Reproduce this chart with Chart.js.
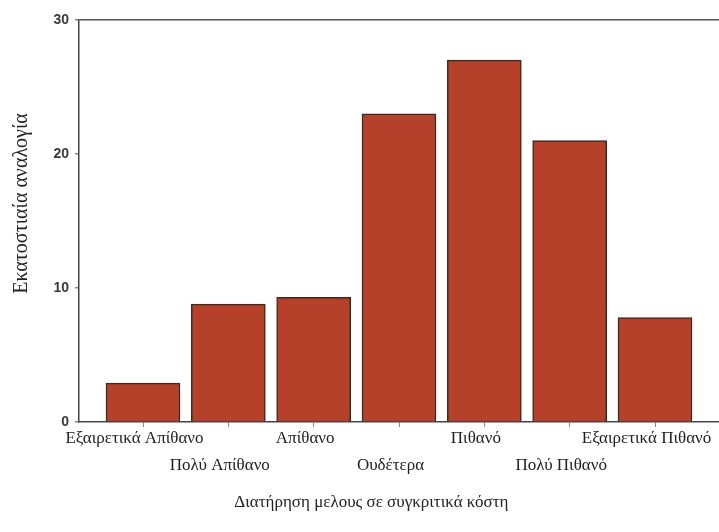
<!DOCTYPE html>
<html>
<head>
<meta charset="utf-8">
<script src="https://cdn.jsdelivr.net/npm/chart.js@4/dist/chart.umd.min.js"></script>
<style>
  html, body { margin: 0; padding: 0; background: #fff; }
  #wrap { width: 719px; height: 532px; }
</style>
</head>
<body>
<div id="wrap"><canvas id="chart"></canvas></div>
<script>
// ===== data =====
const categories = ['Εξαιρετικά Απίθανο', 'Πολύ Απίθανο', 'Απίθανο', 'Ουδέτερα', 'Πιθανό', 'Πολύ Πιθανό', 'Εξαιρετικά Πιθανό'];
const percents = [2.9, 8.8, 9.3, 23.0, 27.0, 21.0, 7.8];
const yTicks = [0, 10, 20, 30];

const serif = '"Liberation Serif", "Times New Roman", serif';
const sans = '"Liberation Sans", Arial, sans-serif';
const nb = n => '\u00a0'.repeat(n);   // the original labels sit a little off-centre

new Chart(document.getElementById('chart'), {
    type: 'bar',
    data: {
        datasets: [{
            data: percents.map((v, i) => ({ x: i, y: v })),
            backgroundColor: '#b5412b',
            borderColor: '#3b2a22',
            borderWidth: 1.5,
            barThickness: 74
        }]
    },
    options: {
        responsive: true, maintainAspectRatio: false, animation: false,
        layout: { padding: { top: 20, right: 0, left: 0, bottom: 0 } },
        plugins: { legend: { display: false }, tooltip: { enabled: false } },
        scales: {
            x: {
                type: 'linear', min: -0.75, max: 6.75, offset: false,
                afterBuildTicks: s => { s.ticks = categories.map((_, i) => ({ value: i })); },
                afterFit: s => { s.height = 110; s.paddingLeft = 0; s.paddingRight = 0; },
                border: { color: '#444', width: 1.5 },
                grid: { offset: false, color: 'transparent', tickColor: '#888', tickLength: 5 },
                ticks: {
                    color: '#222', padding: -2, maxRotation: 0, autoSkip: false,
                    font: { family: serif, size: 17, lineHeight: 1.6 },
                    callback: v => v % 2 === 0 ? categories[v] + nb(4) : ['', categories[v] + nb(4)]
                },
                title: {
                    display: true, text: 'Διατήρηση μελους σε συγκριτικά κόστη' + nb(13),
                    color: '#222', font: { family: serif, size: 17 },
                    padding: { top: 0, bottom: 19 }
                }
            },
            y: {
                min: 0, max: 30,
                afterBuildTicks: s => { s.ticks = yTicks.map(v => ({ value: v })); },
                afterFit: s => { s.width = 79; },
                border: { color: '#444', width: 1.5 },
                grid: {
                    color: c => c.tick && c.tick.value === 30 ? '#555' : 'transparent',
                    lineWidth: 1.5, tickColor: '#888', tickLength: 4
                },
                ticks: { color: '#3a3a3a', padding: 6, font: { family: sans, size: 14, weight: 'bold' } },
                title: {
                    display: true, text: nb(7) + 'Εκατοστιαία αναλογία',
                    color: '#222', font: { family: serif, size: 20 },
                    padding: { top: 10, bottom: 0 }
                }
            }
        }
    }
});
</script>
</body>
</html>
